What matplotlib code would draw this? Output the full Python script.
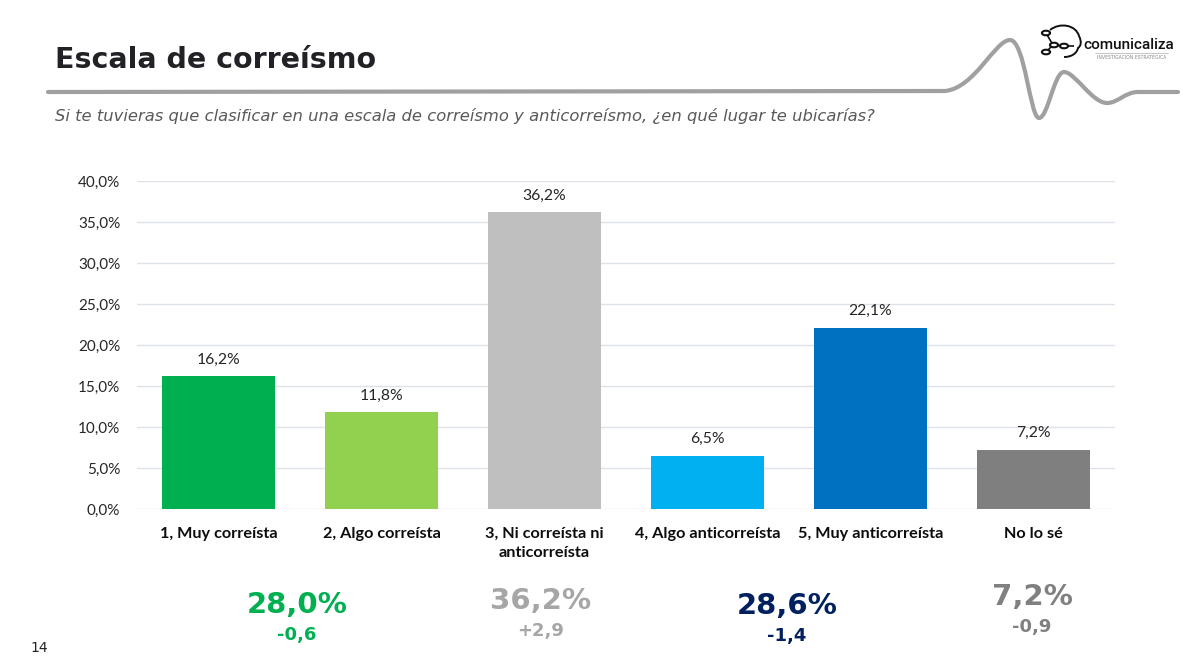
#!/usr/bin/env python3
"""Escala de correísmo - bar chart with summary figures."""

import matplotlib
matplotlib.use('Agg')
import matplotlib.pyplot as plt
from matplotlib.path import Path
from matplotlib.patches import PathPatch, Circle
from matplotlib.ticker import FuncFormatter, MultipleLocator

W, H = 1200, 671

categories = ['1, Muy correísta', '2, Algo correísta',
              '3, Ni correísta ni\nanticorreísta', '4, Algo anticorreísta',
              '5, Muy anticorreísta', 'No lo sé']
values = [16.2, 11.8, 36.2, 6.5, 22.1, 7.2]
bar_colors = ['#00B050', '#92D050', '#BFBFBF', '#00B0F0', '#0070C0', '#7F7F7F']

summary_totals = ['28,0%', '36,2%', '28,6%', '7,2%']
summary_deltas = ['-0,6', '+2,9', '-1,4', '-0,9']
summary_colors = ['#00B050', '#A6A6A6', '#002060', '#808080']

TITLE = 'Escala de correísmo'
SUBTITLE = ('Si te tuvieras que clasificar en una escala de correísmo y '
            'anticorreísmo, ¿en qué lugar te ubicarías?')
CHART_FONT = 'Lato'


def fx(x):
    """Pixel x to figure fraction."""
    return x / W


def fy(y):
    """Pixel y (from top) to figure fraction."""
    return 1 - y / H


def pct(v, _pos=None):
    return f'{v:.1f}%'.replace('.', ',')


def px_path(verts, codes, **kw):
    """Add a path given in pixel coordinates to the figure."""
    path = Path([(fx(a), fy(b)) for a, b in verts], codes)
    fig.add_artist(PathPatch(path, transform=fig.transFigure, fill=False, **kw))


fig = plt.figure(figsize=(W / 100, H / 100), dpi=100)
fig.patch.set_facecolor('white')

# chart
ax = fig.add_axes([fx(137), fy(509), fx(1115) - fx(137), fy(181) - fy(509)])
x = range(len(categories))
ax.bar(x, values, width=0.69, color=bar_colors, zorder=3)
ax.set_xlim(-0.5, len(categories) - 0.5)
ax.set_ylim(0, 40)
ax.yaxis.set_major_locator(MultipleLocator(5))
ax.yaxis.set_major_formatter(FuncFormatter(pct))
ax.grid(axis='y', color='#DDE1E8', linewidth=1, zorder=0)
for side in ['top', 'right', 'left', 'bottom']:
    ax.spines[side].set_visible(False)
ax.tick_params(axis='y', length=0, pad=12, labelsize=11, labelcolor='#262626')
ax.tick_params(axis='x', length=0, pad=13)
ax.set_xticks(list(x))
ax.set_xticklabels(categories, fontsize=11.7, fontweight='bold', color='#0D0D0D',
                   family=CHART_FONT, linespacing=1.45)
for lab in ax.get_yticklabels():
    lab.set_family(CHART_FONT)
for i, v in enumerate(values):
    ax.annotate(pct(v), (i, v), xytext=(0, 7), textcoords='offset points',
                ha='center', va='bottom', fontsize=11.3, color='#262626',
                family=CHART_FONT)

# header
fig.text(fx(55), fy(60), TITLE, fontsize=20.5, fontweight='bold',
         color='#222226', va='center', ha='left', family='DejaVu Sans')
fig.text(fx(55), fy(116), SUBTITLE, fontsize=11.8, style='italic',
         color='#595959', va='center', ha='left', family='DejaVu Sans')

px_path([(48, 92), (945, 91),
         (975, 88), (995, 40), (1010, 40),
         (1025, 40), (1030, 118), (1039, 118),
         (1048, 118), (1054, 72), (1064, 72),
         (1075, 72), (1092, 103), (1107, 103),
         (1118, 103), (1125, 92), (1138, 92),
         (1178, 92)],
        [Path.MOVETO, Path.LINETO] + [Path.CURVE4] * 15 + [Path.LINETO],
        edgecolor='#A0A0A0', linewidth=3, capstyle='round', joinstyle='round')

# logo
px_path([(1050, 30), (1060, 22), (1076, 25), (1079, 36),
         (1082, 42), (1081, 46), (1078, 48),
         (1077, 53), (1072, 57), (1064, 57)],
        [Path.MOVETO] + [Path.CURVE4] * 9,
        edgecolor='#111111', linewidth=1.4)
px_path([(1046, 33), (1053, 45), (1063, 46), (1074, 46)],
        [Path.MOVETO, Path.LINETO, Path.LINETO, Path.LINETO],
        edgecolor='#111111', linewidth=1.2)
px_path([(1053, 45), (1046, 52)], [Path.MOVETO, Path.LINETO],
        edgecolor='#111111', linewidth=1.2)
for cx, cy in [(1046, 33), (1046, 52), (1054, 45), (1064, 46)]:
    fig.add_artist(Circle((fx(cx), fy(cy)), 0.0034, transform=fig.transFigure,
                          facecolor='white', edgecolor='#111111', linewidth=1.5))
fig.text(fx(1083), fy(45), 'comunicaliza', fontsize=11, fontweight='medium',
         color='#111111', va='center', ha='left', family='Roboto')
px_path([(1095, 53), (1168, 53)], [Path.MOVETO, Path.LINETO],
        edgecolor='#BBBBBB', linewidth=0.6)
fig.text(fx(1132), fy(57.5), 'INVESTIGACIÓN ESTRATÉGICA', fontsize=3.3,
         color='#888888', va='center', ha='center', family='DejaVu Sans')

# summary figures
sum_x = [297, 541, 787, 1032]
sum_y = [605, 601, 606, 597]
for i in range(len(summary_totals)):
    fig.text(fx(sum_x[i]), fy(sum_y[i]), summary_totals[i], fontsize=21,
             fontweight='bold', color=summary_colors[i], ha='center',
             va='center', family='DejaVu Sans')
    fig.text(fx(sum_x[i]), fy(sum_y[i] + 30), summary_deltas[i], fontsize=13,
             fontweight='bold', color=summary_colors[i], ha='center',
             va='center', family='DejaVu Sans')

fig.text(fx(30), fy(648), '14', fontsize=10, color='#222222', va='center',
         ha='left', family='DejaVu Sans')

fig.savefig('out.png', dpi=100)
